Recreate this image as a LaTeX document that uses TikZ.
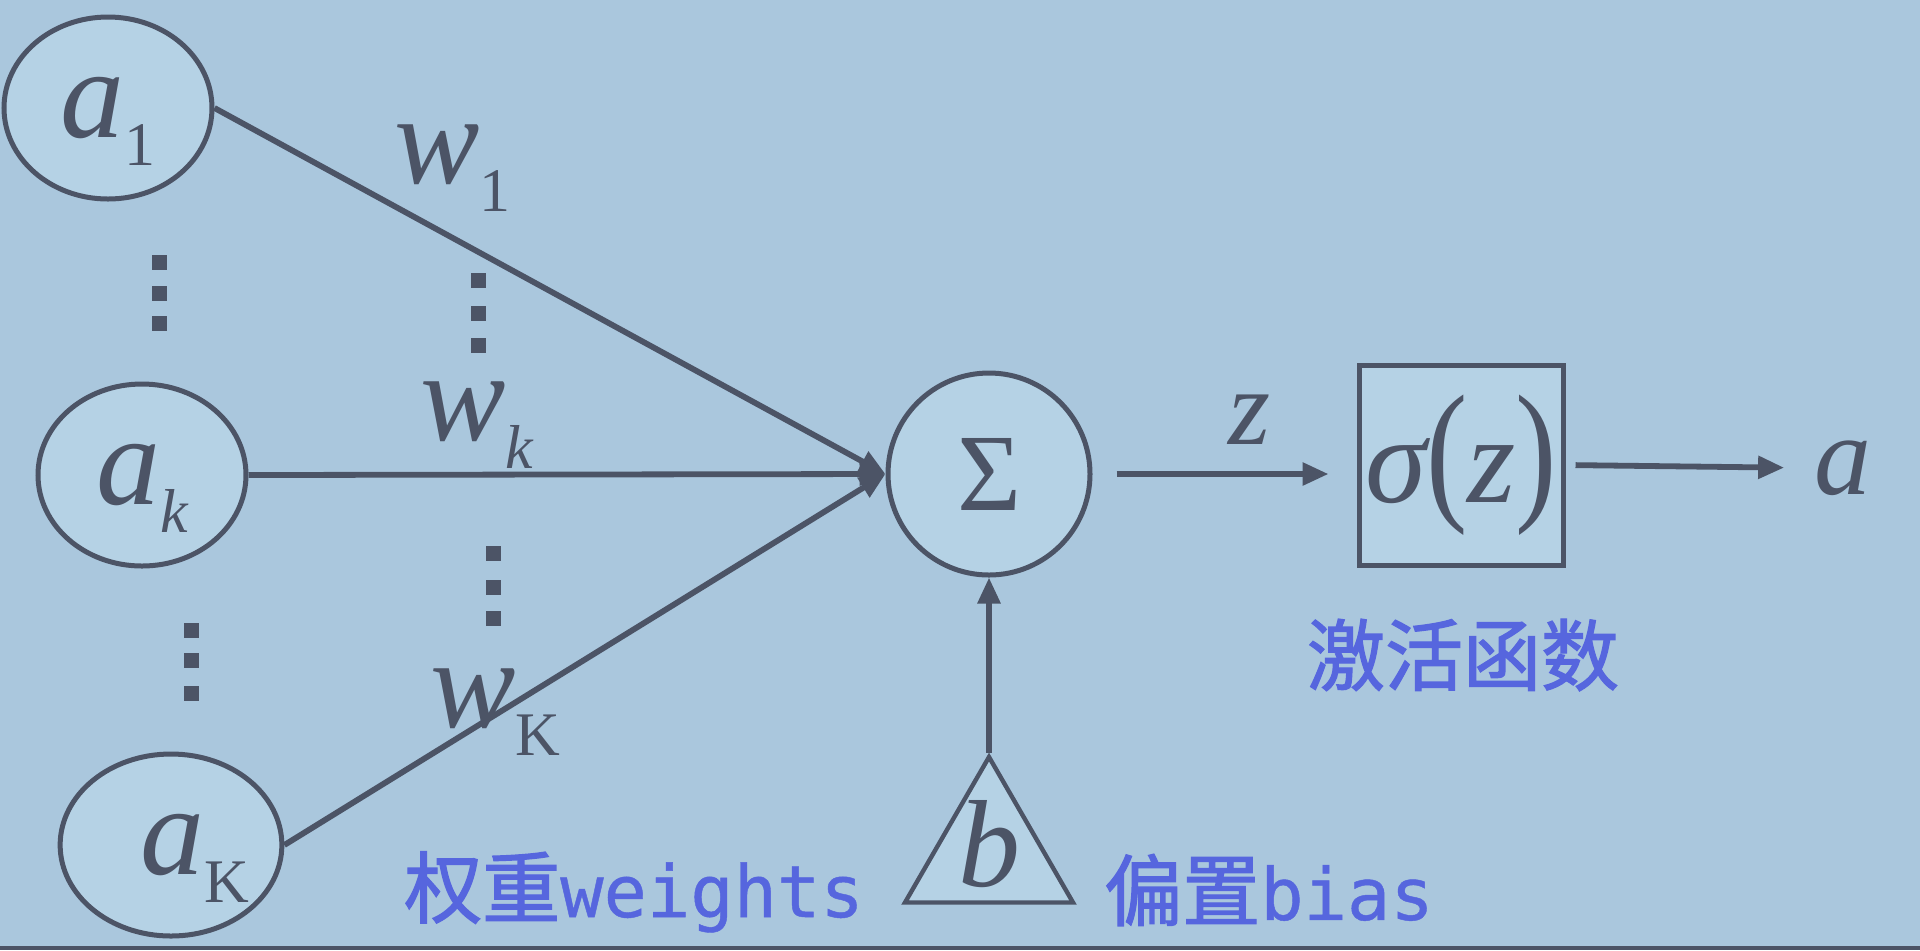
\documentclass[tikz,border=0pt]{standalone}
\usepackage{fontspec}
\setmainfont{Liberation Serif}
\newfontfamily\cjk[FakeBold=1.6]{Noto Sans CJK SC}
\newfontfamily\monotext[FakeBold=0.6]{DejaVu Sans Mono}
\usepackage{xcolor}
\usetikzlibrary{arrows.meta, positioning, shapes.geometric}

\definecolor{slide}{RGB}{170,199,221}
\definecolor{bubble}{RGB}{181,210,229}
\definecolor{ink}{RGB}{76,84,102}
\definecolor{note}{RGB}{86,102,222}

\newcommand{\sym}[2]{{\itshape #1}\raisebox{-14pt}[0pt][0pt]{\fontsize{31}{31}\selectfont #2}}

\begin{document}
\begin{tikzpicture}[
        x=0.5pt, y=-0.5pt,
        every node/.style={text=ink},
        inp/.style={ellipse, draw=ink, fill=bubble, line width=2.5pt, inner sep=0pt,
                    minimum width=104pt, minimum height=91pt, font=\fontsize{64}{64}\selectfont},
        sumnode/.style={circle, draw=ink, fill=bubble, line width=2.5pt, inner sep=0pt,
                    minimum size=101pt, font=\fontsize{55}{55}\selectfont},
        actbox/.style={rectangle, draw=ink, fill=bubble, line width=2.5pt, inner sep=0pt,
                    minimum width=102pt, minimum height=100pt, font=\fontsize{62}{62}\selectfont},
        biasnode/.style={regular polygon, regular polygon sides=3, draw=ink, fill=bubble,
                    line width=2.2pt, inner sep=0pt, minimum size=97pt, font=\fontsize{62}{62}\selectfont},
        mathlabel/.style={inner sep=0pt, font=\fontsize{64}{64}\selectfont},
        note/.style={inner sep=0pt, text=note, font=\cjk\fontsize{39}{39}\selectfont},
        arrow/.style={-{Triangle[length=13pt, width=11pt]}, draw=ink, line width=2.9pt}
    ]

    \fill[slide] (0,0) rectangle (1920,950);
    \fill[ink] (0,946) rectangle (1920,950);
    \useasboundingbox (0,0) rectangle (1920,950);

    \node[inp] (a1) at (108,108) {\sym{a}{1}};
    \node[inp] (ak) at (142,475) {\sym{a}{\itshape k}};
    \node[inp] (aK) at (171,845) {\hspace*{24pt}\sym{a}{K}};

    \node[sumnode] (sig) at (989,474) {Σ};
    \node[actbox] (act) at (1461,465) {{\itshape σ}\scalebox{1}[1.25]{(}{\itshape z}\scalebox{1}[1.25]{)}};
    \node[biasnode] (bias) at (989,854) {\smash{\makebox[0pt]{\raisebox{-16pt}{\itshape b}}}};
    \node[mathlabel, font=\fontsize{57}{57}\selectfont\itshape] (out) at (1843,468) {a};
    \node[mathlabel, font=\fontsize{54}{54}\selectfont\itshape] (zlab) at (1249,420) {z};

    \node[mathlabel, anchor=base west] (w1) at (394,183) {\sym{w}{1}};
    \node[mathlabel, anchor=base west] (wk) at (420,440) {\sym{w}{\itshape k}};
    \node[mathlabel, anchor=base west] (wK) at (430,727) {\sym{w}{K}};

    \foreach \x/\y in {159/262, 159/293, 159/323, 478/280, 478/313, 478/345,
                       493/553, 493/587, 493/618, 191/630, 191/660, 191/693}
        \fill[ink] ({\x-7.5},{\y-7.5}) rectangle ({\x+7.5},{\y+7.5});

    \draw[arrow] (a1.east) -- (sig.west);
    \draw[arrow] (ak.east) -- (sig.west);
    \draw[arrow] (aK.east) -- (sig.west);
    \draw[arrow] (bias.corner 1) -- (sig.south);
    \draw[arrow, shorten <=12pt, shorten >=14pt] (sig.east) -- (sig.east -| act.west);
    \draw[arrow, shorten <=5pt, shorten >=15pt] (act.east) -- (out.west);

    \node[note] (actnote) at (1463,655) {激活函数};
    \node[note] (wnote) at (634,892) {权重{\monotext\fontsize{36}{36}\selectfont weights}};
    \node[note] (bnote) at (1269,890) {偏置{\monotext\fontsize{36}{36}\selectfont bias}};

\end{tikzpicture}
\end{document}
